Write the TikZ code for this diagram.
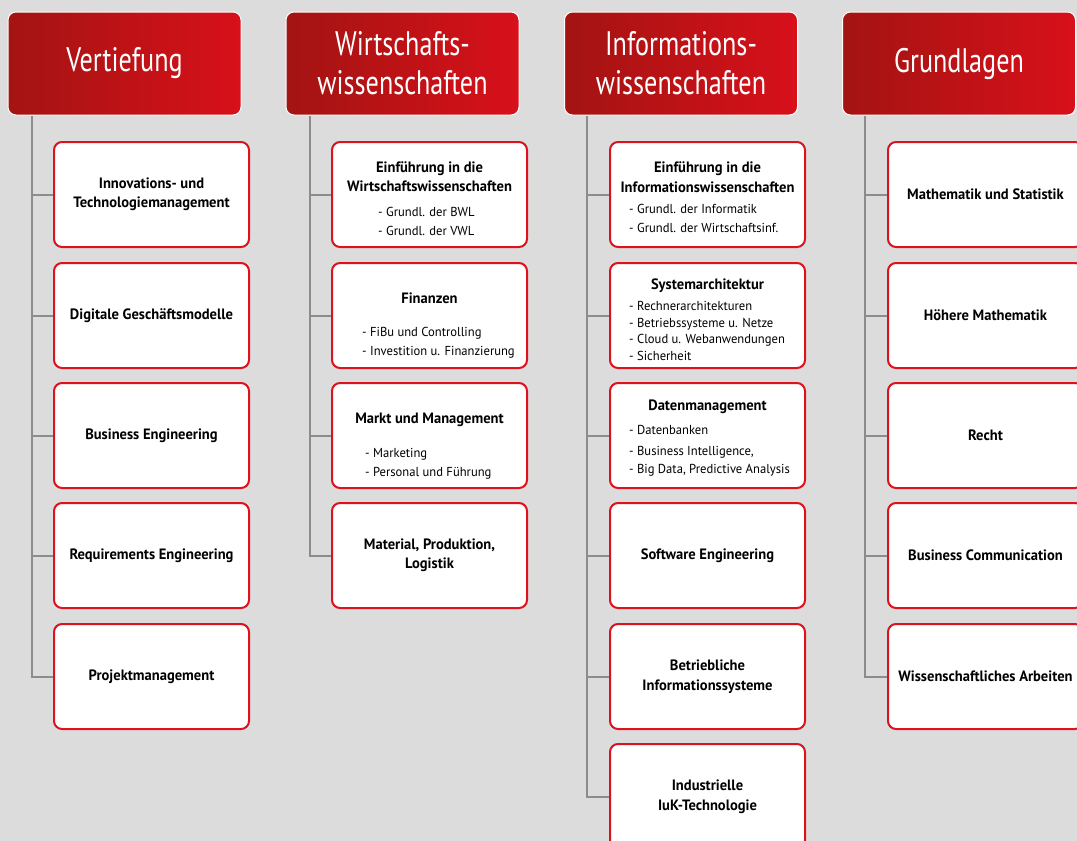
\documentclass[tikz,border=0pt]{standalone}
\usepackage{fontspec}
\setmainfont{PT Sans}
\newfontfamily\headfont[FakeStretch=0.77]{PT Sans}
\newfontfamily\boxfont[FakeStretch=0.97]{PT Sans}
\usetikzlibrary{backgrounds}
\definecolor{bgcol}{RGB}{220,220,220}
\definecolor{hdark}{RGB}{163,20,18}
\definecolor{hlight}{RGB}{216,16,26}
\definecolor{boxred}{RGB}{220,18,28}
\definecolor{conngray}{RGB}{140,140,140}
\tikzset{
  headbox/.style={draw=white, line width=1pt, rounded corners=8pt, left color=hdark, right color=hlight,
    minimum width=233pt, minimum height=103pt, text=white, align=center, inner sep=0pt,
    font=\headfont\fontsize{34}{39}\selectfont},
  itembox/.style={draw=boxred, line width=2pt, fill=white, rounded corners=8pt,
    minimum width=195pt, minimum height=105pt, inner sep=0pt, align=center,
    font=\boxfont\bfseries\fontsize{15}{19.5}\selectfont},
  conn/.style={draw=conngray, line width=2pt},
  titletext/.style={anchor=base, inner sep=0pt, font=\boxfont\bfseries\fontsize{15}{19}\selectfont},
  subtext/.style={anchor=base west, inner sep=0pt, font=\boxfont\fontsize{13}{16}\selectfont},
}
\begin{document}
\begin{tikzpicture}[x=1pt,y=-1pt]
\useasboundingbox (0,0) rectangle (1077,841);
% headers
\node[headbox] (vh) at (124.5,63.5) {Vertiefung};
\node[headbox] (wh) at (402.5,63.5) {Wirtschafts-\\wissenschaften};
\node[headbox] (ih) at (681,63.5) {Informations-\\wissenschaften};
\node[headbox] (gh) at (959,63.5) {Grundlagen};
% Vertiefung column
\node[itembox] (v1) at (151.5,194.5) {Innovations- und\\Technologiemanagement};
\node[itembox] (v2) at (151.5,315.5) {Digitale Geschäftsmodelle};
\node[itembox] (v3) at (151.5,435.5) {Business Engineering};
\node[itembox] (v4) at (151.5,555.5) {Requirements Engineering};
\node[itembox] (v5) at (151.5,676.5) {Projektmanagement};
% Wirtschaftswissenschaften column
\node[itembox] (w1) at (429.5,194.5) {};
\node[itembox] (w2) at (429.5,315.5) {};
\node[itembox] (w3) at (429.5,435.5) {};
\node[itembox] (w4) at (429.5,555.5) {Material, Produktion,\\Logistik};
\node[titletext] (w1t1) at (429.5,172) {Einführung in die};
\node[titletext] (w1t2) at (429.5,191) {Wirtschaftswissenschaften};
\node[subtext] (w1s1) at (378,216) {- Grundl. der BWL};
\node[subtext] (w1s2) at (378,235) {- Grundl. der VWL};
\node[titletext] (w2t1) at (429.5,303) {Finanzen};
\node[subtext] (w2s1) at (362,336) {- FiBu und Controlling};
\node[subtext] (w2s2) at (362,355) {- Investition u. Finanzierung};
\node[titletext] (w3t1) at (429.5,423) {Markt und Management};
\node[subtext] (w3s1) at (365,457) {- Marketing};
\node[subtext] (w3s2) at (365,476) {- Personal und Führung};
% Informationswissenschaften column
\node[itembox] (i1) at (707.5,194.5) {};
\node[itembox] (i2) at (707.5,315.5) {};
\node[itembox] (i3) at (707.5,435.5) {};
\node[itembox] (i4) at (707.5,555.5) {Software Engineering};
\node[itembox] (i5) at (707.5,676.5) {Betriebliche\\Informationssysteme};
\node[itembox] (i6) at (707.5,796.5) {Industrielle\\IuK-Technologie};
\node[titletext] (i1t1) at (707.5,172) {Einführung in die};
\node[titletext] (i1t2) at (707.5,192) {Informationswissenschaften};
\node[subtext] (i1s1) at (629,213) {- Grundl. der Informatik};
\node[subtext] (i1s2) at (629,232) {- Grundl. der Wirtschaftsinf.};
\node[titletext] (i2t1) at (707.5,289) {Systemarchitektur};
\node[subtext] (i2s1) at (629,310) {- Rechnerarchitekturen};
\node[subtext] (i2s2) at (629,327) {- Betriebssysteme u. Netze};
\node[subtext] (i2s3) at (629,343) {- Cloud u. Webanwendungen};
\node[subtext] (i2s4) at (629,360) {- Sicherheit};
\node[titletext] (i3t1) at (707.5,410) {Datenmanagement};
\node[subtext] (i3s1) at (629,434) {- Datenbanken};
\node[subtext] (i3s2) at (629,455) {- Business Intelligence,};
\node[subtext] (i3s3) at (629,473) {- Big Data, Predictive Analysis};
% Grundlagen column
\node[itembox] (g1) at (985.5,194.5) {Mathematik und Statistik};
\node[itembox] (g2) at (985.5,315.5) {Höhere Mathematik};
\node[itembox] (g3) at (985.5,435.5) {Recht};
\node[itembox] (g4) at (985.5,555.5) {Business Communication};
\node[itembox] (g5) at (985.5,676.5) {Wissenschaftliches Arbeiten};
% line tops
\coordinate (vtop) at ([xshift=24pt]vh.south west);
\coordinate (wtop) at ([xshift=24pt]wh.south west);
\coordinate (itop) at ([xshift=23pt]ih.south west);
\coordinate (gtop) at ([xshift=23pt]gh.south west);
\begin{pgfonlayer}{background}
\fill[bgcol] (0,0) rectangle (1077,841);
\draw[conn] (vtop) |- (v5.west);
\foreach \n in {v1,v2,v3,v4} \draw[conn] (\n.west -| vtop) -- (\n.west);
\draw[conn] (wtop) |- (w4.west);
\foreach \n in {w1,w2,w3} \draw[conn] (\n.west -| wtop) -- (\n.west);
\draw[conn] (itop) |- (i6.west);
\foreach \n in {i1,i2,i3,i4,i5} \draw[conn] (\n.west -| itop) -- (\n.west);
\draw[conn] (gtop) |- (g5.west);
\foreach \n in {g1,g2,g3,g4} \draw[conn] (\n.west -| gtop) -- (\n.west);
\end{pgfonlayer}
\end{tikzpicture}
\end{document}
